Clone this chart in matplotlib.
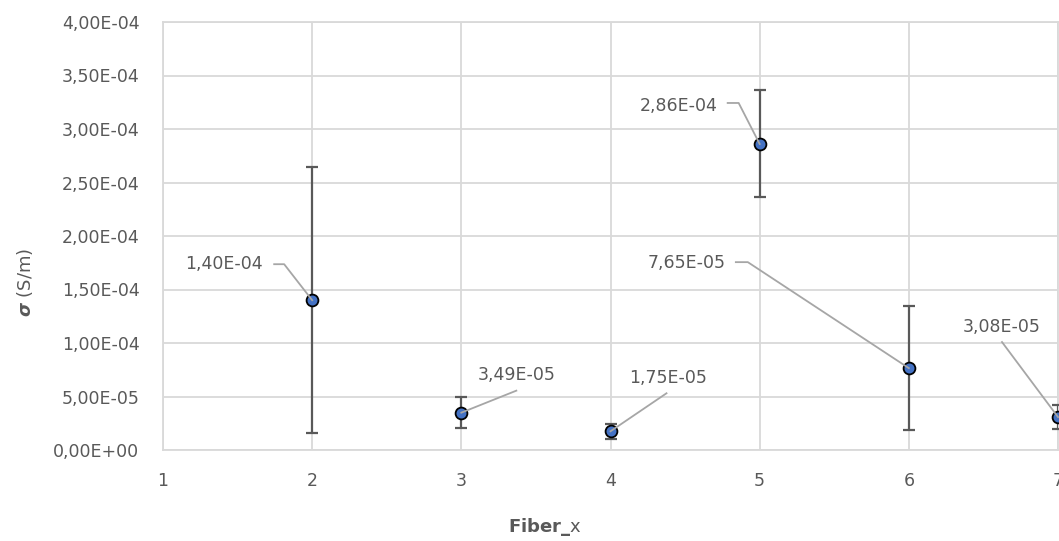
import matplotlib
matplotlib.use("Agg")
import matplotlib.pyplot as plt
import numpy as np

# data
fiber = [2, 3, 4, 5, 6, 7]
sigma = [1.40e-4, 3.49e-5, 1.75e-5, 2.86e-4, 7.65e-5, 3.08e-5]
err = [1.245e-4, 1.45e-5, 0.68e-5, 5.0e-5, 5.8e-5, 1.1e-5]
labels = ["1,40E-04", "3,49E-05", "1,75E-05", "2,86E-04", "7,65E-05", "3,08E-05"]
yticks = np.arange(0, 4.01e-4, 5e-5)

# label layout in pixels, relative to the point: text centre, leader start, leader stub end
lab_pos = [(-88, 36), (55, 38), (58, 53), (-81, 38), (-222, 105), (-56, 90)]
lead_pts = [
    [(-38, 36), (-28, 36)],
    [(55, 22)],
    [(56, 38)],
    [(-32, 41), (-21, 41)],
    [(-173, 106), (-161, 106)],
    [(-56, 75)],
]

txt = "#595959"
grid = "#d9d9d9"

plt.rcParams["font.family"] = "DejaVu Sans"
plt.rcParams["mathtext.fontset"] = "dejavusans"

fig = plt.figure(figsize=(10.59, 5.41), dpi=100)
W, H = 1059, 541
ax = fig.add_axes([163 / W, (H - 450) / H, (1058 - 163) / W, (450 - 22) / H])

ax.errorbar(fiber, sigma, yerr=err, fmt="none", ecolor="#595959", elinewidth=1.6,
            capsize=4, capthick=1.6, zorder=3)
ax.plot(fiber, sigma, "o", ms=8.5, mfc="#4472c4", mec="black", mew=1.3, zorder=4,
        clip_on=False)

ax.set_xlim(1, 7)
ax.set_ylim(0, 4e-4)
ax.set_xticks(range(1, 8))
ax.set_yticks(yticks)
ax.set_yticklabels([("%.2E" % v).replace(".", ",") for v in yticks])
ax.tick_params(length=0, labelsize=12.5, labelcolor=txt)
ax.tick_params(axis="x", pad=16)
ax.tick_params(axis="y", pad=17)
ax.grid(True, color=grid, lw=1.3)
ax.set_axisbelow(True)
for s in ax.spines.values():
    s.set_color(grid)
    s.set_linewidth(1.3)

fig.text(25 / W, 1 - 282 / H, r"$\boldsymbol{\sigma}$ (S/m)", rotation=90,
         ha="center", va="center", color=txt, fontsize=13)
fig.text(545 / W, 1 - 527 / H, r"$\mathbf{Fiber\_}$x", ha="center", va="center",
         color=txt, fontsize=13)

# data labels with leader lines, built in display pixels
fig.canvas.draw()
for x, y, lab, (tx, ty), lp in zip(fiber, sigma, labels, lab_pos, lead_pts):
    px, py = ax.transData.transform((x, y))
    fig.text((px + tx) / W, (py + ty) / H, lab, ha="center", va="center",
             color=txt, fontsize=12.5)
    xs = [px + a for a, b in lp] + [px]
    ys = [py + b for a, b in lp] + [py]
    line = plt.Line2D(np.array(xs) / W, np.array(ys) / H, transform=fig.transFigure,
                      color="#a6a6a6", lw=1.3, zorder=5)
    fig.add_artist(line)

fig.savefig("out.png", dpi=100)
